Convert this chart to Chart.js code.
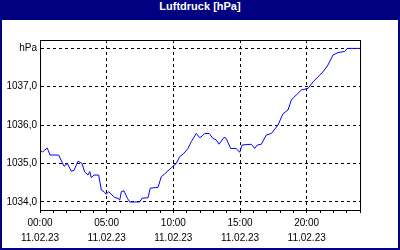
<!DOCTYPE html>
<html>
<head>
<meta charset="utf-8">
<script src="https://cdn.jsdelivr.net/npm/chart.js@4"></script>
<style>
html,body{margin:0;padding:0;background:#000080;}
#frame{position:absolute;left:0;top:0;width:400px;height:250px;background:#000080;}
#title{position:absolute;left:0;top:0;width:400px;height:20px;line-height:19px;text-align:center;color:#fff;font:bold 11px 'Liberation Sans',Arial,sans-serif;}
#inner{position:absolute;left:2px;top:20px;width:396px;height:228px;background:#fff;}
canvas{display:block;}
</style>
</head>
<body>
<div id="frame">
  <div id="title">Luftdruck [hPa]</div>
  <div id="inner"><canvas id="c" width="396" height="228"></canvas></div>
</div>
<script>
const titleText = 'Luftdruck [hPa]';
const dateLabel = '11.02.23';
const xTickHours = [0, 5, 10, 15, 20];
const yTicks = [1034, 1035, 1036, 1037, 1038];
const hours = [0.05,0.2,0.35,0.55,0.75,1.4,1.8,2.05,2.35,2.55,2.85,3.15,3.35,3.6,3.73,3.85,4.05,4.4,4.6,4.8,4.97,5.15,5.4,5.6,5.85,5.98,6.1,6.3,6.55,6.73,7.48,7.65,8.1,8.27,8.85,9.1,9.35,9.6,9.85,10.22,10.48,10.73,11.1,11.35,11.72,11.98,12.15,12.35,12.68,12.98,13.22,13.43,13.8,13.97,14.3,14.72,14.98,15.15,15.85,16.1,16.3,16.6,16.97,17.35,17.85,18.22,18.6,18.85,19.22,19.6,20.1,20.48,20.85,21.22,21.6,21.98,22.35,22.85,23.05,23.98];
const pressure = [1035.33,1035.30,1035.35,1035.40,1035.22,1035.22,1034.93,1035.00,1034.80,1034.82,1035.06,1035.00,1034.78,1034.70,1034.79,1034.63,1034.70,1034.70,1034.31,1034.27,1034.20,1034.27,1034.18,1034.12,1034.09,1034.05,1034.27,1034.29,1034.10,1034.00,1034.00,1034.10,1034.11,1034.36,1034.38,1034.66,1034.73,1034.81,1034.89,1035.00,1035.18,1035.24,1035.39,1035.57,1035.78,1035.67,1035.71,1035.78,1035.78,1035.65,1035.61,1035.50,1035.68,1035.65,1035.39,1035.39,1035.29,1035.48,1035.50,1035.39,1035.48,1035.50,1035.74,1035.78,1036.00,1036.29,1036.39,1036.65,1036.78,1036.91,1036.95,1037.12,1037.25,1037.38,1037.56,1037.82,1037.88,1037.91,1037.99,1037.99];

document.getElementById('title').textContent = titleText;
Chart.defaults.font.family = "'Liberation Sans', Arial, sans-serif";
Chart.defaults.font.size = 10;
Chart.defaults.color = '#000';

const boxPlugin = {
  id: 'box',
  afterDraw(chart) {
    const a = chart.chartArea, ctx = chart.ctx;
    ctx.save();
    ctx.strokeStyle = '#000';
    ctx.lineWidth = 1;
    ctx.setLineDash([]);
    ctx.strokeRect(Math.round(a.left) + 0.5, Math.round(a.top) + 0.5, Math.round(a.right - a.left), Math.round(a.bottom - a.top));
    ctx.restore();
  }
};

new Chart(document.getElementById('c'), {
  type: 'line',
  data: {
    datasets: [{
      data: hours.map((h, i) => ({x: h, y: pressure[i]})),
      borderColor: '#0000ff',
      borderWidth: 1,
      pointRadius: 0,
      tension: 0,
      fill: false
    }]
  },
  options: {
    responsive: false,
    animation: false,
    devicePixelRatio: 1,
    layout: {padding: {left: 0, right: 38, top: 20, bottom: 0}},
    plugins: {legend: {display: false}, tooltip: {enabled: false}},
    scales: {
      x: {
        type: 'linear',
        min: 0, max: 24,
        afterFit(s) { s.height = 38; },
        afterBuildTicks(s) { s.ticks = Array.from({length: 25}, (_, i) => ({value: i})); },
        ticks: {
          autoSkip: false, maxRotation: 0, padding: 3,
          font: {size: 10, lineHeight: 1.5},
          callback(v) {
            if (xTickHours.includes(v)) return [String(v).padStart(2, '0') + ':00', dateLabel];
            return '';
          }
        },
        grid: {
          tickLength: 3,
          tickColor: '#000',
          color(c) { const v = c.tick && c.tick.value; return (v > 0 && v < 24 && xTickHours.includes(v)) ? '#000' : 'rgba(0,0,0,0)'; }
        },
        border: {color: '#000', width: 1, dash: [3, 3]}
      },
      y: {
        min: 1033.792, max: 1038.208,
        afterFit(s) { s.width = 38; },
        afterBuildTicks(s) { s.ticks = yTicks.map(v => ({value: v})); },
        ticks: {
          padding: 3,
          callback(v) { return v === 1038 ? 'hPa' : v.toFixed(1).replace('.', ','); }
        },
        grid: {drawTicks: false, color: '#000'},
        border: {color: '#000', width: 1, dash: [3, 3]}
      }
    }
  },
  plugins: [boxPlugin]
});
</script>
</body>
</html>
